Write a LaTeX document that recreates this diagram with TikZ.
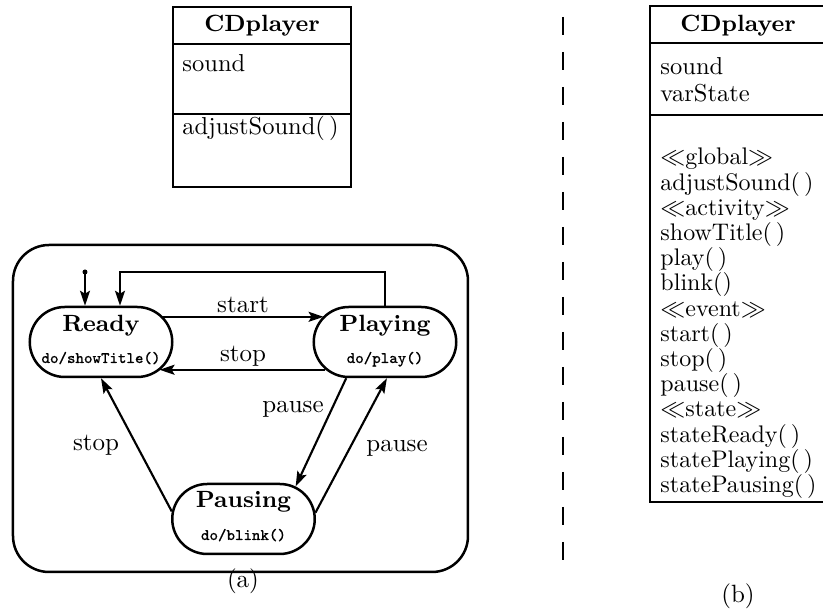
\documentclass[tikz,border=0pt]{standalone}
\usepackage{fontspec}
\usetikzlibrary{arrows.meta,shapes.misc}
\newfontfamily\actfont[FakeBold=0.5]{Latin Modern Mono}
\newcommand\stereo[1]{$\ll$#1$\gg$}
\tikzset{
  frame/.style={draw, line width=1pt},
  member/.style={anchor=base west, inner sep=0pt, font=\fontsize{9.8}{12}\selectfont},
  opmember/.style={member, font=\fontsize{9.6}{12}\selectfont},
  classname/.style={anchor=base, inner sep=0pt, font=\fontsize{9.4}{11}\selectfont\bfseries},
  statebox/.style={draw, line width=1pt, rounded rectangle, inner sep=0pt,
                   minimum width=57pt, minimum height=28pt},
  statename/.style={anchor=base, inner sep=0pt, font=\fontsize{9.4}{11}\selectfont\bfseries},
  stateact/.style={anchor=base, inner sep=0pt, font=\fontsize{6.4}{8}\selectfont\actfont},
  conn/.style={line width=0.85pt, -{Stealth[length=6pt,width=4pt,inset=1.2pt]}},
  evlabel/.style={anchor=base, inner sep=0pt, font=\fontsize{10}{12}\selectfont},
  caption/.style={anchor=base, inner sep=0pt, font=\fontsize{10}{12}\selectfont},
}
\begin{document}
\begin{tikzpicture}[x=0.4pt,y=-0.4pt]
\useasboundingbox (0,0) rectangle (823,611);
\clip (0,0) rectangle (823,611);

% ---- (a) class box ----
\draw[frame] (173,7) rectangle (351,187);
\draw[frame] (173,44) -- (351,44);
\draw[frame] (173,114) -- (351,114);
\node[classname] (lname) at (262,32) {CDplayer};
\node[member] (lattr) at (182,72) {sound};
\node[member] (lop) at (182,135) {adjustSound(\,)};

% ---- (a) state machine ----
\draw[frame, rounded corners=14.4pt] (13,245) rectangle (468,572);

\node[statebox] (ready)   at (101,342) {};
\node[statebox] (playing) at (385,342) {};
\node[statebox] (pausing) at (243.5,519) {};

\node[statename] (readyname)   at ([yshift=4pt]ready.center)   {Ready};
\node[stateact]  (readyact)    at ([yshift=-8.4pt]ready.center) {do/showTitle()};
\node[statename] (playingname) at ([yshift=4pt]playing.center) {Playing};
\node[stateact]  (playingact)  at ([yshift=-8.4pt]playing.center) {do/play()};
\node[statename] (pausingname) at ([yshift=4.4pt]pausing.center) {Pausing};
\node[stateact]  (pausingact)  at ([yshift=-8.4pt]pausing.center) {do/blink()};

% initial pseudo-state
\coordinate (init) at (85,272);
\fill (init) circle[radius=2.5];
\draw[conn] (init) -- (init |- ready.north);

% return loop from Playing to Ready
\coordinate (loopc) at (120,272);
\draw[conn] (playing.north) |- (loopc) -- (loopc |- ready.north);

% transitions
\draw[conn] (ready.22.45) -- (ready.22.45 -| playing.157.9);
\draw[conn] (playing.205.8) -- (playing.205.8 -| ready.-26.2);
\draw[conn] (pausing.174) -- (ready.south);
\draw[conn] (playing.223) -- (pausing.32);
\draw[conn] (pausing.5) -- (playing.273);

\node[evlabel] (lstart)  at (243,313) {start};
\node[evlabel] (lstop1)  at (243,362) {stop};
\node[evlabel] (lpause1) at (293,413) {pause};
\node[evlabel] (lstop2)  at (96,451)  {stop};
\node[evlabel] (lpause2) at (397,452) {pause};

\node[caption] (capa) at (243,588) {(a)};

% ---- separator ----
\draw[line width=1.1pt, dash pattern=on 7.2pt off 6.8pt] (563,17) -- (563,560);

% ---- (b) class box ----
\draw[frame] (650,6) rectangle (832,502);
\draw[frame] (650,43) -- (832,43);
\draw[frame] (650,115) -- (832,115);
\node[classname] (rname) at (738,32) {CDplayer};
\node[member] (rattr1) at (660,75)  {sound};
\node[member] (rattr2) at (660,102) {varState};
% operations, one line every 25.2 units
\foreach \txt [count=\i from 0] in {
  {\stereo{global}}, {adjustSound(\,)},
  {\stereo{activity}}, {showTitle(\,)}, {play(\,)}, {blink()},
  {\stereo{event}}, {start(\,)}, {stop(\,)}, {pause(\,)},
  {\stereo{state}}, {stateReady(\,)}, {statePlaying(\,)},
  {statePausing(\,)}}
  \node[opmember] (rop\i) at (660,165+25.2*\i) {\txt};

\node[caption] (capb) at (738,603) {(b)};
\end{tikzpicture}
\end{document}
